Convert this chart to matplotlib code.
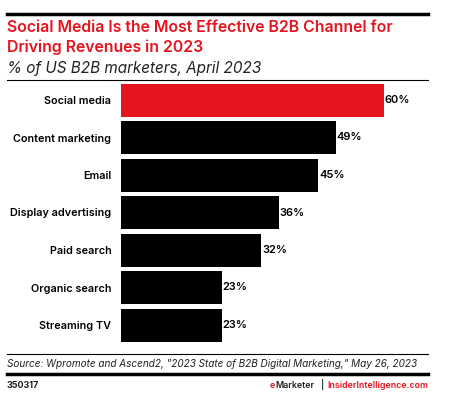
import matplotlib.pyplot as plt
from matplotlib.lines import Line2D

categories = ["Social media", "Content marketing", "Email", "Display advertising",
              "Paid search", "Organic search", "Streaming TV"]
values = [60, 49, 45, 36, 32, 23, 23]
colors = ["#E5141F"] + ["#000000"] * 6

W, H = 454, 399
fig = plt.figure(figsize=(W / 100, H / 100), dpi=100)
plt.rcParams['font.family'] = ['Inter', 'DejaVu Sans']

def fx(px):
    return px / W

def fy(py):
    return 1 - py / H

# axes: left 121, right 428, top 77.5, bottom 347.5
ax = fig.add_axes([fx(121), fy(347.5), fx(428) - fx(121), fy(77.5) - fy(347.5)])
y = list(range(len(categories)))
ax.barh(y, values, height=0.88, color=colors, edgecolor="none")
ax.set_ylim(len(categories) - 0.4, -0.6)
ax.set_xlim(0, 307 / 4.38)
ax.set_yticks(y)
ax.set_yticklabels(categories, fontsize=7.8, fontweight='semibold')
ax.tick_params(axis='y', length=0, pad=7)
ax.set_xticks([])
for s in ax.spines.values():
    s.set_visible(False)
for yi, v in zip(y, values):
    ax.text(v + 0.2, yi, f"{v}%", va='center', ha='left', fontsize=8, fontweight='semibold')

# lines
def hline(py, lw):
    fig.add_artist(Line2D([fx(7), fx(428)], [fy(py), fy(py)], color='black', lw=lw,
                          transform=fig.transFigure))

hline(14, 2.5)
hline(79.5, 0.8)
hline(353.5, 0.8)
hline(374, 2.5)

red = "#E5141F"
fig.text(fx(7), fy(27), "Social Media Is the Most Effective B2B Channel for", fontsize=11.4,
         fontweight='semibold', color=red, va='center', ha='left')
fig.text(fx(7), fy(47.5), "Driving Revenues in 2023", fontsize=11.4,
         fontweight='semibold', color=red, va='center', ha='left')
fig.text(fx(7), fy(68), "% of US B2B marketers, April 2023", fontsize=11,
         style='italic', color='#222222', va='center', ha='left')
fig.text(fx(7), fy(364), 'Source: Wpromote and Ascend2, "2023 State of B2B Digital Marketing," May 26, 2023',
         fontsize=7.2, style='italic', color='#222222', va='center', ha='left')
fig.text(fx(7), fy(385), "350317", fontsize=6.5, fontweight='bold', color='#222222',
         va='center', ha='left')
fig.text(fx(428), fy(385), "InsiderIntelligence.com", fontsize=6.4, fontweight='semibold',
         color=red, va='center', ha='right')
fig.text(fx(322), fy(385), "|", fontsize=6.4, fontweight='semibold',
         color='#222222', va='center', ha='center')
mk = fig.text(fx(314), fy(385), "Marketer", fontsize=6.4, fontweight='semibold',
              color='#222222', va='center', ha='right')
r = fig.canvas.get_renderer()
bb = mk.get_window_extent(renderer=r)
fig.text(bb.x0 / W, fy(385), "e", fontsize=6.4, fontweight='semibold',
         color=red, va='center', ha='right')

fig.savefig("out.png", dpi=100)
